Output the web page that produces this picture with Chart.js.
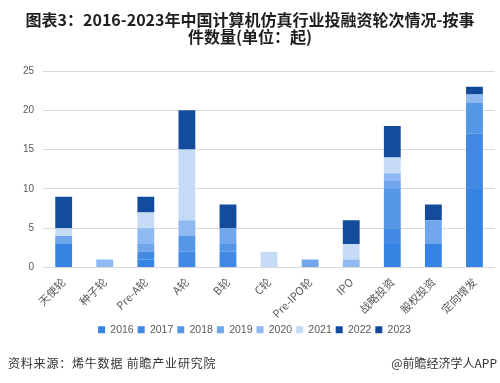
<!DOCTYPE html>
<html>
<head>
<meta charset="utf-8">
<script src="https://cdn.jsdelivr.net/npm/chart.js@4"></script>
<style>
    body { margin: 0; background: #fff; font-family: "Noto Sans CJK SC", sans-serif; }
    #wrap { position: relative; width: 500px; height: 383px; overflow: hidden; }
    #title { position: absolute; left: 0; top: 11px; width: 500px; text-align: center; font-size: 16px; font-weight: bold; line-height: 17px; color: #1f1f1f; }
    #src { position: absolute; left: 8px; top: 354px; font-size: 12px; letter-spacing: 0.8px; color: #333; }
    #app { position: absolute; right: 3px; top: 354px; font-size: 12px; color: #333; }
    canvas { position: absolute; left: 0; top: 0; }
</style>
</head>
<body>
<div id="wrap">
    <canvas id="myChart" width="500" height="383"></canvas>
    <div id="title">图表3：2016-2023年中国计算机仿真行业投融资轮次情况-按事<br>件数量(单位：起)</div>
    <div id="src">资料来源：烯牛数据 前瞻产业研究院</div>
    <div id="app">@前瞻经济学人APP</div>
</div>
<script>
const categories = ['天使轮', '种子轮', 'Pre-A轮', 'A轮', 'B轮', 'C轮', 'Pre-IPO轮', 'IPO', '战略投资', '股权投资', '定向增发'];
const years = ['2016', '2017', '2018', '2019', '2020', '2021', '2022', '2023'];

// event counts per year, one value per category
const y2016 = [3, 0, 1, 0, 0, 0, 0, 0, 3, 3, 10];
const y2017 = [0, 0, 1, 2, 2, 0, 0, 0, 2, 0, 7];
const y2018 = [0, 0, 0, 2, 1, 0, 0, 0, 5, 0, 4];
const y2019 = [1, 0, 1, 0, 2, 0, 1, 0, 1, 3, 0];
const y2020 = [0, 1, 2, 2, 0, 0, 0, 1, 1, 0, 1];
const y2021 = [1, 0, 2, 9, 0, 2, 0, 2, 2, 0, 0];
const y2022 = [4, 0, 2, 5, 3, 0, 0, 3, 4, 2, 0];
const y2023 = [0, 0, 0, 0, 0, 0, 0, 0, 0, 0, 1];

const colors = ['#3584e4', '#4189e3', '#5596e6', '#70a6eb', '#8fb9f2', '#c5dbf6', '#144c9d', '#124a99'];
const series = [y2016, y2017, y2018, y2019, y2020, y2021, y2022, y2023];

const datasets = years.map((year, i) => ({
    label: year,
    data: series[i],
    backgroundColor: colors[i],
    borderWidth: 0,
    barPercentage: 0.41,
    categoryPercentage: 1
}));

Chart.defaults.font.family = '"Noto Sans CJK SC", "Liberation Sans", sans-serif';
Chart.defaults.color = '#595959';

let chart = document.getElementById('myChart').getContext('2d');
let myChart = new Chart(chart, {
    type: 'bar',
    data: { labels: categories, datasets: datasets },
    options: {
        responsive: false,
        animation: false,
        layout: { padding: { top: 71, left: 14, right: 5, bottom: 38 } },
        plugins: {
            tooltip: { enabled: false },
            legend: {
                position: 'bottom',
                labels: { boxWidth: 7, boxHeight: 7, padding: 4, font: { size: 10.5, family: '"Liberation Sans", sans-serif' }, color: '#595959' }
            }
        },
        scales: {
            x: {
                stacked: true,
                grid: { display: false },
                border: { display: false },
                ticks: { maxRotation: 45, minRotation: 45, font: { size: 11 }, color: '#595959', padding: 0 }
            },
            y: {
                stacked: true,
                min: 0,
                max: 25,
                ticks: { stepSize: 5, font: { size: 10, family: '"Liberation Sans", sans-serif' }, color: '#595959', padding: 9 },
                grid: { color: '#d9d9d9', lineWidth: 1, drawTicks: false },
                border: { display: false }
            }
        }
    }
});
</script>
</body>
</html>
